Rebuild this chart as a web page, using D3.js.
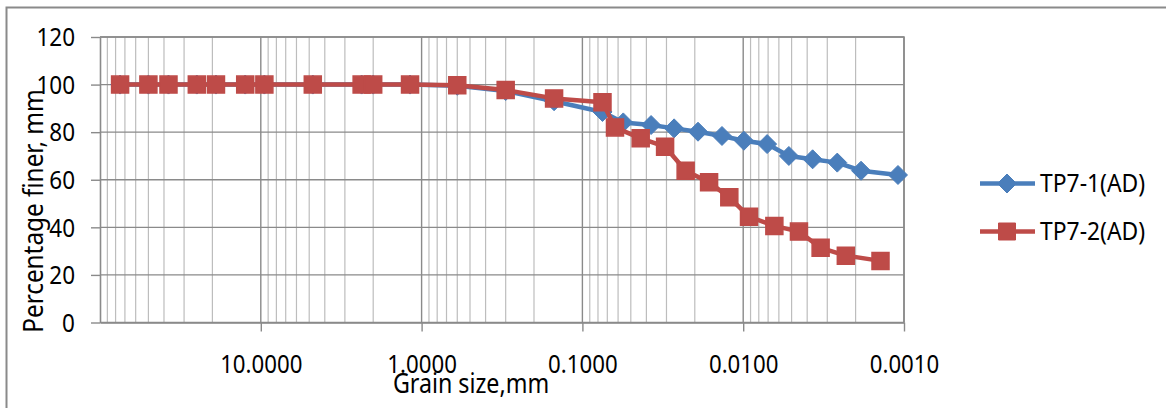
<!DOCTYPE html>
<html><head><meta charset="utf-8">
<script src="https://cdn.jsdelivr.net/npm/d3@7"></script>
<style>
body{margin:0;background:#fff}
svg{display:block}
text{font-family:"Noto Sans",sans-serif;fill:#000}
</style>
</head><body><svg id="c" width="1166" height="408"></svg>
<script>
// ---- data ----
const sieveSizes = [75, 50, 37.5, 25, 19, 12.5, 9.5, 4.75, 2.36, 2.0, 1.18, 0.6, 0.3, 0.15, 0.075];
const tp71Size = sieveSizes.concat([0.0557, 0.0374, 0.0269, 0.0191, 0.01355, 0.0099, 0.0071, 0.0052, 0.0037, 0.0026, 0.00185, 0.00109]);
const tp71Pct = [100, 100, 100, 100, 100, 100, 100, 100, 100, 100, 100, 99.5, 97.3, 93.0, 88.5,
                 84.1, 83.0, 81.6, 80.2, 78.4, 76.4, 75.0, 70.0, 68.6, 67.2, 63.8, 62.0];
const tp72Size = sieveSizes.concat([0.0627, 0.0434, 0.0306, 0.0228, 0.0163, 0.0122, 0.0092, 0.0064, 0.0045, 0.0033, 0.0023, 0.0014]);
const tp72Pct = [100, 100, 100, 100, 100, 100, 100, 100, 100, 100, 100, 99.7, 97.7, 94.2, 92.6,
                 82.0, 77.4, 73.9, 63.8, 58.9, 52.6, 44.5, 40.6, 38.2, 31.4, 28.1, 25.9];
const seriesNames = ["TP7-1(AD)", "TP7-2(AD)"];
const xTicks = [10, 1, 0.1, 0.01, 0.001];
const xTickLabels = ["10.0000", "1.0000", "0.1000", "0.0100", "0.0010"];
const yTicks = [0, 20, 40, 60, 80, 100, 120];
const xTitle = "Grain size,mm";
const yTitle = "Percentage finer, mm";

// ---- layout ----
const svg = d3.select("#c");
const L = 100, R = 904, T = 37, B = 322.5;
const x = d3.scaleLog().domain([100, 0.001]).range([L, R]);
const y = d3.scaleLinear().domain([0, 120]).range([B, T]);
const blue = "#4a7ebb", red = "#be4b48";
const gridDark = "#8a8a8a", gridLight = "#bdbdbd";

function squeeze(sel, f) {
  sel.each(function () {
    const w = this.getComputedTextLength();
    d3.select(this).attr("textLength", w * f).attr("lengthAdjust", "spacingAndGlyphs");
  });
}

// outer chart frame
svg.append("rect").attr("x", 6.5).attr("y", 7.5).attr("width", 1300).attr("height", 600)
  .attr("fill", "none").attr("stroke", "#8a8a8a").attr("stroke-width", 2);

// minor vertical gridlines
const minor = [];
for (let e = -3; e <= 1; e++) for (let m = 2; m <= 9; m++) minor.push(m * Math.pow(10, e));
svg.append("g").selectAll("line").data(minor).join("line")
  .attr("x1", d => x(d)).attr("x2", d => x(d)).attr("y1", T).attr("y2", B)
  .attr("stroke", gridLight).attr("stroke-width", 1.2);

// major vertical gridlines
svg.append("g").selectAll("line").data(xTicks).join("line")
  .attr("x1", d => x(d)).attr("x2", d => x(d)).attr("y1", T).attr("y2", B)
  .attr("stroke", gridDark).attr("stroke-width", 1.4);

// horizontal gridlines
svg.append("g").selectAll("line").data(yTicks).join("line")
  .attr("x1", L).attr("x2", R).attr("y1", d => y(d)).attr("y2", d => y(d))
  .attr("stroke", gridDark).attr("stroke-width", 1.4);

// x axis
const xAxis = d3.axisBottom(x).tickValues(xTicks).tickFormat((d, i) => xTickLabels[i]).tickSize(9).tickSizeOuter(0);
const gx = svg.append("g").attr("transform", `translate(0,${B})`).call(xAxis);
gx.select(".domain").attr("stroke", gridDark).attr("stroke-width", 1.6);
gx.selectAll(".tick line").attr("stroke", gridDark).attr("stroke-width", 1.4);
gx.selectAll(".tick text").attr("font-size", 25).attr("font-family", "Noto Sans").attr("fill", "#000")
  .attr("y", 0).attr("dy", 0).attr("transform", "translate(0,50)");

// y axis
const yAxis = d3.axisLeft(y).tickValues(yTicks).tickFormat(d3.format("d")).tickSize(9).tickSizeOuter(0);
const gy = svg.append("g").attr("transform", `translate(${L},0)`).call(yAxis);
gy.select(".domain").attr("stroke", gridDark).attr("stroke-width", 1.6);
gy.selectAll(".tick line").attr("stroke", gridDark).attr("stroke-width", 1.4);
gy.selectAll(".tick text").attr("font-size", 25).attr("font-family", "Noto Sans").attr("fill", "#000")
  .attr("x", -25).attr("dy", "0.35em");

// plot border top/right
svg.append("path").attr("d", `M${L},${T}H${R}V${B}`).attr("fill", "none")
  .attr("stroke", gridDark).attr("stroke-width", 1.6);

squeeze(gx.selectAll(".tick text"), 0.89);
squeeze(gy.selectAll(".tick text"), 0.9);

// axis titles
const xt = svg.append("text").attr("x", 471).attr("y", 393).attr("text-anchor", "middle")
  .attr("font-size", 27).text(xTitle);
squeeze(xt, 0.86);
const yt = svg.append("text").attr("transform", "translate(43,211) rotate(-90)").attr("text-anchor", "middle")
  .attr("font-size", 27).text(yTitle);
squeeze(yt, 0.9);

// series
const line = d3.line().x(d => x(d[0])).y(d => y(d[1]));
const s1 = tp71Size.map((d, i) => [d, tp71Pct[i]]);
const s2 = tp72Size.map((d, i) => [d, tp72Pct[i]]);
const diamond = "M0,-9.5L9.5,0L0,9.5L-9.5,0Z";
const square = "M-8.5,-8.5H8.5V8.5H-8.5Z";

svg.append("path").datum(s1).attr("d", line).attr("fill", "none").attr("stroke", blue)
  .attr("stroke-width", 4.5).attr("stroke-linejoin", "round");
svg.append("g").selectAll("path").data(s1).join("path")
  .attr("transform", d => `translate(${x(d[0])},${y(d[1])})`).attr("d", diamond)
  .attr("fill", blue).attr("stroke", blue).attr("stroke-width", 1);

svg.append("path").datum(s2).attr("d", line).attr("fill", "none").attr("stroke", red)
  .attr("stroke-width", 4.5).attr("stroke-linejoin", "round");
svg.append("g").selectAll("path").data(s2).join("path")
  .attr("transform", d => `translate(${x(d[0])},${y(d[1])})`).attr("d", square)
  .attr("fill", red).attr("stroke", red).attr("stroke-width", 1.5);

// legend
const legend = [{name: seriesNames[0], c: blue, m: diamond, yy: 183.5},
                {name: seriesNames[1], c: red, m: square, yy: 231.5}];
const lg = svg.append("g").selectAll("g").data(legend).join("g")
  .attr("transform", d => `translate(0,${d.yy})`);
lg.append("line").attr("x1", 980).attr("x2", 1035).attr("y1", 0).attr("y2", 0)
  .attr("stroke", d => d.c).attr("stroke-width", 4.5);
lg.append("path").attr("d", d => d.m).attr("transform", "translate(1007,0)")
  .attr("fill", d => d.c).attr("stroke", d => d.c).attr("stroke-width", 1);
const lt = lg.append("text").attr("x", 1040).attr("y", 8.5).attr("font-size", 26).text(d => d.name);
squeeze(lt, 0.88);
</script>
</body></html>
